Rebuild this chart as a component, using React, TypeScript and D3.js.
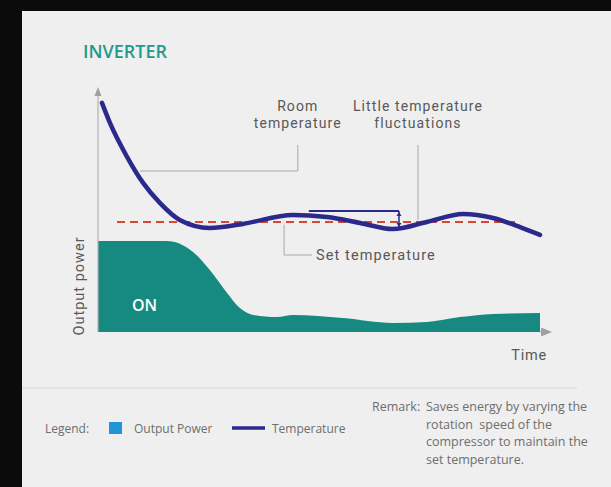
import React from "react";
import * as d3 from "d3";

// ---- data (time 0..100, value 0..100) ----
const tempTime = [0.9, 2.7, 6.6, 10.2, 14.0, 18.5, 25.3, 32.8, 44.1, 51.8, 59.3, 66.7, 74.4, 82.6, 89.4, 95.5, 100];
const tempValue = [93.9, 85.7, 71.7, 61.1, 52.9, 45.9, 42.6, 44.3, 48.0, 47.1, 44.7, 42.2, 45.1, 48.4, 46.7, 43.0, 39.8];

const powerTime = [0, 8, 15.6, 21.5, 25.3, 29.2, 32.1, 35.1, 40.5, 44.1, 55.4, 66.7, 74.4, 81.9, 89.4, 100];
const powerValue = [37.3, 37.3, 37.3, 32.8, 25.4, 16.0, 9.8, 7.0, 6.1, 7.0, 5.7, 3.7, 4.1, 6.1, 7.4, 7.8];

const setTemperature = 45.1;
const setRange = [4.3, 95.5];
const fluctuationBand = { from: 47.7, to: 68.1, top: 49.6, bottom: 43.0 };

const remarkLines = [
  "Saves energy by varying the",
  "rotation  speed of the",
  "compressor to maintain the",
  "set temperature.",
];

const W = 611;
const H = 487;

export default function App() {
  const x = d3.scaleLinear().domain([0, 100]).range([98, 540]);
  const y = d3.scaleLinear().domain([0, 100]).range([332, 88]);

  const tempPts: [number, number][] = tempTime.map((t, i) => [t, tempValue[i]]);
  const powPts: [number, number][] = powerTime.map((t, i) => [t, powerValue[i]]);

  const line = d3
    .line<[number, number]>()
    .x((d) => x(d[0]))
    .y((d) => y(d[1]))
    .curve(d3.curveMonotoneX);
  const area = d3
    .area<[number, number]>()
    .x((d) => x(d[0]))
    .y0(y(0))
    .y1((d) => y(d[1]))
    .curve(d3.curveMonotoneX);

  const font = "'Open Sans', 'DejaVu Sans', sans-serif";
  const annFont = "Roboto, 'Open Sans', sans-serif";
  const lead = "#a8a8a8";
  const annText = "#585858";

  const roomX = x(45.2);
  const flucX = x(72.4);
  const setX = x(42.1);

  return (
    <div style={{ position: "absolute", left: 0, top: 0 }}>
      <svg width={W} height={H} style={{ display: "block" }} fontFamily={font}>
        <rect x={0} y={0} width={W} height={H} fill="#0b0b0b" />
        <rect x={22} y={11} width={W - 22} height={H - 11} fill="#efefef" />

        <text x={83} y={58} fill="#1f9a8c" fontSize={18} fontWeight={600}>
          INVERTER
        </text>

        {/* output power area */}
        <path d={area(powPts) || ""} fill="#168a80" />

        {/* axes */}
        <line x1={x(0)} y1={y(0)} x2={x(0)} y2={95} stroke="#b0b0b0" strokeWidth={1.2} />
        <path d={`M${x(0)},87 L${x(0) - 3.5},96 L${x(0) + 3.5},96 Z`} fill="#a0a0a0" />
        <line x1={x(100)} y1={y(0)} x2={545} y2={y(0)} stroke="#b0b0b0" strokeWidth={1.2} />
        <path d={`M552,${y(0)} L541,${y(0) - 4.5} L541,${y(0) + 4.5} Z`} fill="#a0a0a0" />

        {/* set temperature dashed */}
        <line
          x1={x(setRange[0])}
          x2={x(setRange[1])}
          y1={y(setTemperature)}
          y2={y(setTemperature)}
          stroke="#d9482e"
          strokeWidth={2}
          strokeDasharray="8,5"
        />

        {/* leader lines */}
        <polyline
          points={`${roomX},145 ${roomX},${y(66)} ${x(9.5)},${y(66)}`}
          fill="none"
          stroke={lead}
          strokeWidth={1}
        />
        <line x1={flucX} y1={145} x2={flucX} y2={y(45.9)} stroke={lead} strokeWidth={1} />
        <polyline
          points={`${setX},${y(44)} ${setX},255 312,255`}
          fill="none"
          stroke={lead}
          strokeWidth={1}
        />

        {/* temperature line */}
        <path
          d={line(tempPts) || ""}
          fill="none"
          stroke="#2b2a8c"
          strokeWidth={4.5}
          strokeLinecap="round"
          strokeLinejoin="round"
        />

        {/* fluctuation bracket */}
        <line
          x1={x(fluctuationBand.from)}
          x2={x(fluctuationBand.to)}
          y1={y(fluctuationBand.top)}
          y2={y(fluctuationBand.top)}
          stroke="#2b2a8c"
          strokeWidth={2.2}
        />
        <line
          x1={x(fluctuationBand.to)}
          x2={x(fluctuationBand.to)}
          y1={y(fluctuationBand.top)}
          y2={y(fluctuationBand.bottom)}
          stroke="#2b2a8c"
          strokeWidth={1.5}
        />
        <path
          d={`M${x(fluctuationBand.to)},${y(fluctuationBand.top) + 1} l-2.5,4 l5,0 Z M${x(fluctuationBand.to)},${y(fluctuationBand.bottom)} l-2.5,-4 l5,0 Z`}
          fill="#2b2a8c"
        />

        {/* annotation texts */}
        <g fill={annText} fontSize={14} fontFamily={annFont} letterSpacing={1.1} textAnchor="middle">
          <text x={roomX} y={111}>Room</text>
          <text x={roomX} y={128}>temperature</text>
          <text x={flucX} y={111}>Little temperature</text>
          <text x={flucX} y={128}>fluctuations</text>
        </g>
        <text x={316} y={260} fill={annText} fontSize={14.5} fontFamily={annFont} letterSpacing={1.1}>
          Set temperature
        </text>

        <text x={132} y={311} fill="#ffffff" fontSize={16} fontWeight={600}>
          ON
        </text>

        <text
          transform={`translate(84,${(237 + 335) / 2}) rotate(-90)`}
          textAnchor="middle"
          fill={annText}
          fontSize={14.5}
          fontFamily={annFont}
          letterSpacing={1}
        >
          Output power
        </text>
        <text x={547} y={360} textAnchor="end" fill={annText} fontSize={14.5} fontFamily={annFont} letterSpacing={0.8}>
          Time
        </text>

        {/* separator */}
        <line x1={22} x2={577} y1={388} y2={388} stroke="#dadada" strokeWidth={1.2} />

        {/* legend */}
        <g fill="#6e6e6e" fontSize={12}>
          <text x={45} y={433}>Legend:</text>
          <rect x={109} y={422} width={13} height={12} fill="#2196d6" />
          <text x={134} y={433}>Output Power</text>
          <line x1={232} x2={265} y1={428} y2={428} stroke="#2b2a8c" strokeWidth={3.5} />
          <text x={272} y={433}>Temperature</text>
        </g>

        {/* remark */}
        <g fill="#6e6e6e" fontSize={12.5}>
          <text x={372} y={411}>Remark:</text>
          {remarkLines.map((l, i) => (
            <text key={i} x={426} y={411 + i * 17.7} style={{ whiteSpace: "pre" }}>
              {l}
            </text>
          ))}
        </g>
      </svg>
    </div>
  );
}
